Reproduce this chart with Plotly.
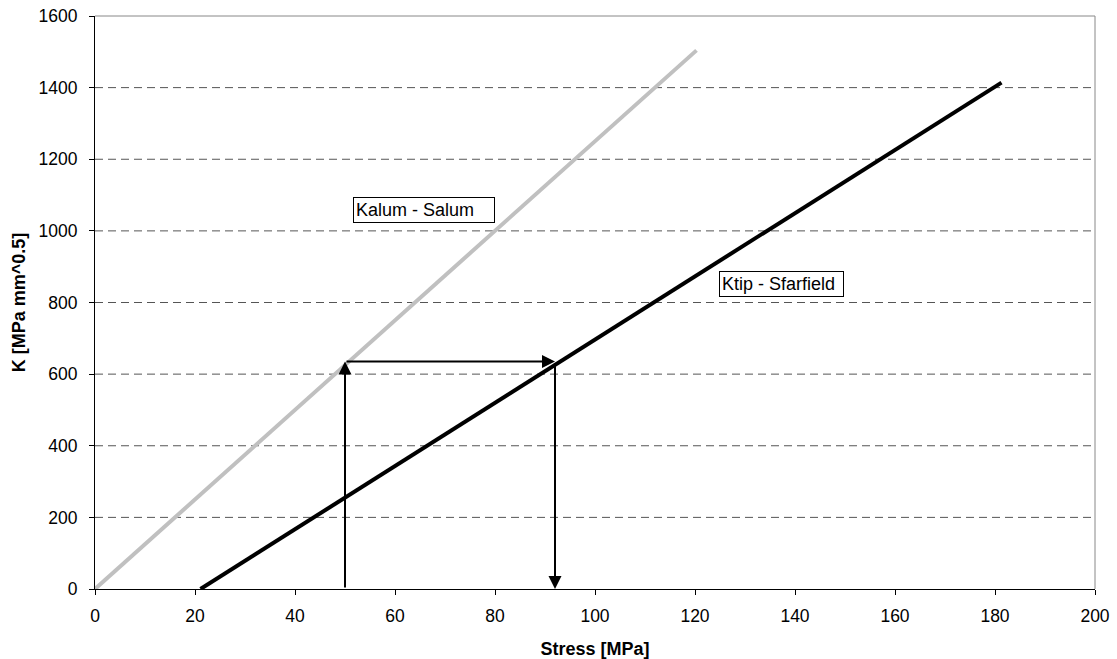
import plotly.graph_objects as go

# Data
salum_x = [0, 120.3]
kalum_y = [0, 1504]
sfar_x = [21.1, 181.3]
ktip_y = [0, 1414]

# Construction arrows (start_x, start_y, end_x, end_y)
arrow_starts_x = [50, 50, 92]
arrow_starts_y = [0, 635, 635]
arrow_ends_x = [50, 92, 92]
arrow_ends_y = [635, 635, 0]

label_names = ["Kalum - Salum", "Ktip - Sfarfield"]
label_x = [65.8, 137.3]
label_y = [1057, 853]
label_w = [136, 119]

x_ticks = list(range(0, 201, 20))
y_ticks = list(range(0, 1601, 200))

font_family = "Liberation Sans, Arial, sans-serif"

fig = go.Figure()
fig.add_trace(go.Scatter(x=salum_x, y=kalum_y, mode="lines",
                         line=dict(color="#c0c0c0", width=4), showlegend=False,
                         name=label_names[0]))
fig.add_trace(go.Scatter(x=sfar_x, y=ktip_y, mode="lines",
                         line=dict(color="black", width=4), showlegend=False,
                         name=label_names[1]))

shapes = []
for yv in y_ticks[1:-1]:
    shapes.append(dict(type="line", xref="paper", yref="y", x0=0, x1=1, y0=yv, y1=yv,
                       line=dict(color="#555555", width=1, dash="8px,5px"), layer="below"))
shapes.append(dict(type="line", xref="paper", yref="paper", x0=0, x1=1, y0=1, y1=1,
                   line=dict(color="#888888", width=1)))
shapes.append(dict(type="line", xref="paper", yref="paper", x0=1, x1=1, y0=0, y1=1,
                   line=dict(color="#888888", width=1)))

annotations = []
for sx, sy, ex, ey in zip(arrow_starts_x, arrow_starts_y, arrow_ends_x, arrow_ends_y):
    annotations.append(dict(x=ex, y=ey, ax=sx, ay=sy, xref="x", yref="y", axref="x", ayref="y",
                            text="", showarrow=True, arrowhead=2, arrowsize=1.3,
                            arrowwidth=2, arrowcolor="black", standoff=0))
for name, lx, ly, w in zip(label_names, label_x, label_y, label_w):
    annotations.append(dict(x=lx, y=ly, xref="x", yref="y", text=name, showarrow=False,
                            font=dict(family=font_family, size=18, color="black"),
                            width=w, align="left",
                            bordercolor="black", borderwidth=1, borderpad=2,
                            bgcolor="white"))

fig.update_layout(
    width=1117, height=659,
    margin=dict(l=95, r=22, t=16, b=70),
    paper_bgcolor="white", plot_bgcolor="white",
    font=dict(family=font_family, size=17.5, color="black"),
    shapes=shapes, annotations=annotations,
    xaxis=dict(range=[0, 200], tickvals=x_ticks, showgrid=False, zeroline=False,
               showline=True, linecolor="black", linewidth=1, automargin=False,
               ticks="outside", ticklen=5, tickcolor="black", ticklabelstandoff=6,
               title=dict(text="<b>Stress [MPa]</b>", font=dict(size=18), standoff=18)),
    yaxis=dict(range=[0, 1600], tickvals=y_ticks, showgrid=False, zeroline=False,
               showline=True, linecolor="black", linewidth=1, automargin=False,
               ticks="outside", ticklen=5, tickcolor="black", ticklabelstandoff=8,
               title=dict(text="<b>K [MPa mm^0.5]</b>", font=dict(size=18), standoff=8)),
)

fig.write_html(
    "out.html",
    config={"displayModeBar": False},
    post_script="document.body.style.margin='0px'; document.body.style.overflow='hidden';",
)
